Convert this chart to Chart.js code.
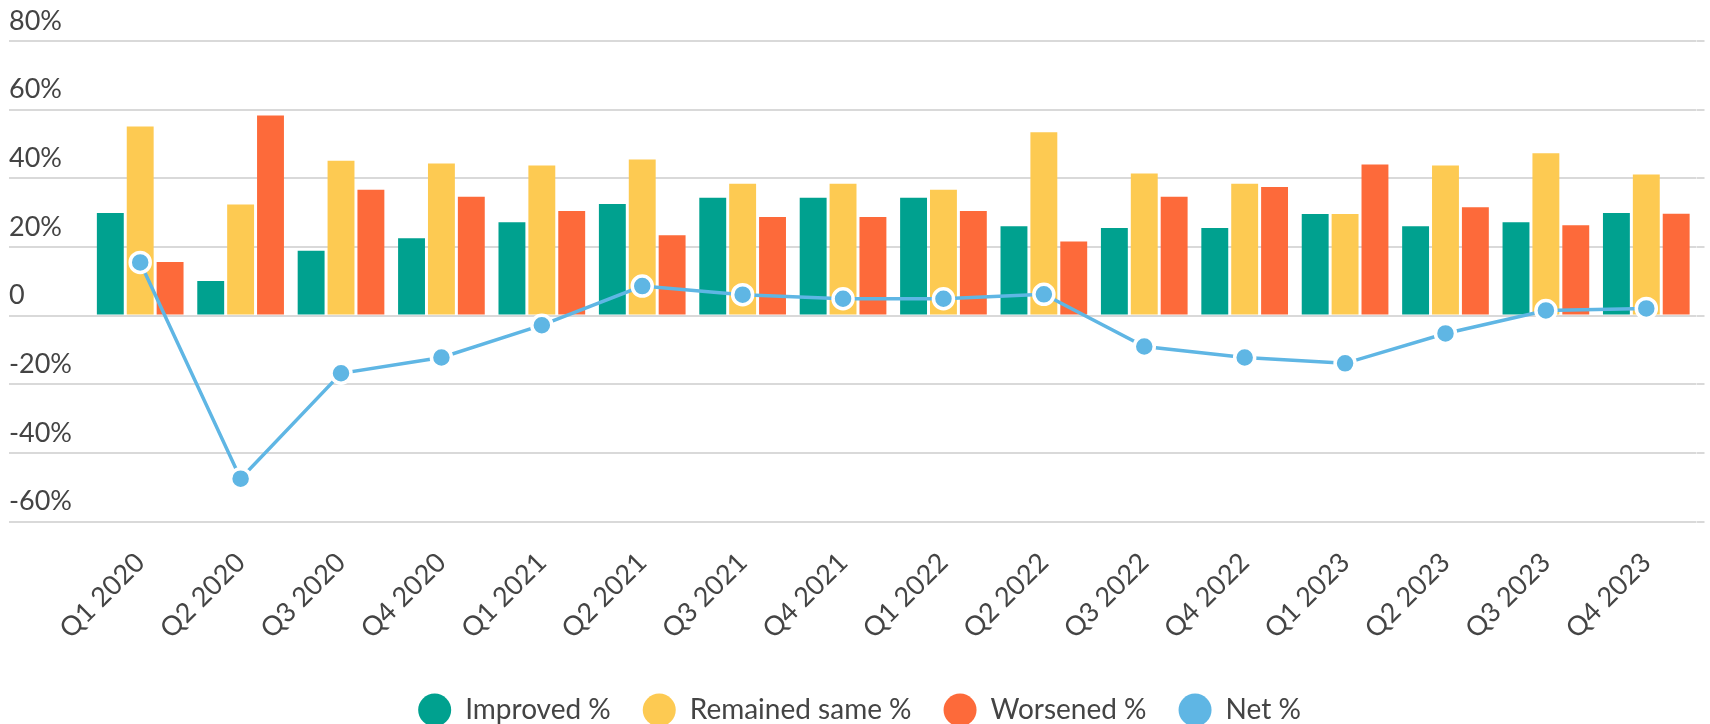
<!DOCTYPE html>
<html>
<head>
<meta charset="utf-8">
<script src="https://cdn.jsdelivr.net/npm/chart.js@4/dist/chart.umd.min.js"></script>
<style>
  html, body { margin: 0; padding: 0; background: #fff; }
  #wrap { width: 1710px; height: 724px; position: relative; }
</style>
</head>
<body>
<div id="wrap"><canvas id="quarterly"></canvas></div>
<script>
const quarters = ['Q1 2020', 'Q2 2020', 'Q3 2020', 'Q4 2020', 'Q1 2021', 'Q2 2021', 'Q3 2021', 'Q4 2021',
  'Q1 2022', 'Q2 2022', 'Q3 2022', 'Q4 2022', 'Q1 2023', 'Q2 2023', 'Q3 2023', 'Q4 2023'];
const improved = [29.9, 10.1, 18.9, 22.5, 27.2, 32.5, 34.3, 34.3, 34.3, 26.0, 25.5, 25.5, 29.6, 26.0, 27.2, 29.9];
const remained = [55.1, 32.4, 45.1, 44.3, 43.7, 45.5, 38.4, 38.4, 36.7, 53.4, 41.4, 38.4, 29.6, 43.7, 47.3, 41.1];
const worsened = [15.6, 58.3, 36.7, 34.6, 30.5, 23.4, 28.7, 28.7, 30.5, 21.6, 34.6, 37.5, 44.0, 31.6, 26.3, 29.7];
const net = [15.5, -47.5, -16.8, -12.2, -2.8, 8.6, 6.1, 4.9, 4.9, 6.2, -9.0, -12.2, -13.9, -5.2, 1.5, 2.1];

Chart.defaults.font.family = 'Lato';
Chart.defaults.color = '#444';

const gridColor = '#d9d9d9';

chart = new Chart(document.getElementById('quarterly'),
  {
  type: 'bar',
  data: {
    labels: quarters,
    datasets: [
      { label: 'Improved %', data: improved, backgroundColor: '#00a18f', order: 1 },
      { label: 'Remained same %', data: remained, backgroundColor: '#fdca52', order: 1 },
      { label: 'Worsened %', data: worsened, backgroundColor: '#fd6a3a', order: 1 },
      {
        type: 'line',
        label: 'Net %',
        data: net,
        order: 0,
        borderColor: '#5fb6e4',
        backgroundColor: '#5fb6e4',
        borderWidth: 3.5,
        pointRadius: 10,
        pointHoverRadius: 10,
        pointBackgroundColor: '#5fb6e4',
        pointBorderColor: '#fff',
        pointBorderWidth: 3.5,
        tension: 0
      }
    ]
  },
  options: {
    responsive: true,
    maintainAspectRatio: false,
    animation: false,
    events: [],
    categoryPercentage: 0.893,
    barPercentage: 0.9,
    // legend sits right against the bottom edge in the original
    layout: { padding: { top: 41, left: 9, right: 0, bottom: -10 } },
    scales: {
      x: {
        grid: { display: false, drawTicks: false },
        border: { display: false },
        ticks: { font: { size: 27 }, maxRotation: 45, minRotation: 45, padding: 25, color: '#444' },
        afterFit(scale) { scale.height -= 6; }
      },
      y: {
        min: -60,
        max: 80,
        grid: { color: gridColor, lineWidth: 2, tickLength: 81, tickColor: gridColor },
        border: { display: false },
        ticks: {
          stepSize: 20,
          font: { size: 27 },
          color: '#444',
          crossAlign: 'far',
          labelOffset: -20,
          callback: v => v === 0 ? '0' : v + '%'
        },
        afterFit(scale) { scale.width = 81; }
      },
      yEdge: {
        position: 'right',
        min: -60,
        max: 80,
        grid: { drawOnChartArea: false, color: gridColor, lineWidth: 2, tickLength: 8 },
        border: { display: false },
        ticks: { display: false, stepSize: 20 },
        afterFit(scale) { scale.width = 8; }
      }
    },
    plugins: {
      tooltip: { enabled: false },
      legend: {
        position: 'bottom',
        labels: {
          font: { size: 28 },
          color: '#444',
          usePointStyle: true,
          pointStyleWidth: 33,
          boxHeight: 23.2,
          padding: 32,
          generateLabels(chart) {
            const items = Chart.defaults.plugins.legend.labels.generateLabels(chart);
            items.forEach(item => {
              item.lineWidth = 0;
              item.strokeStyle = 'rgba(0,0,0,0)';
              item.pointStyle = 'circle';
            });
            return items.sort((a, b) => a.datasetIndex - b.datasetIndex);
          }
        }
      }
    }
  }
});
</script>
</body>
</html>
